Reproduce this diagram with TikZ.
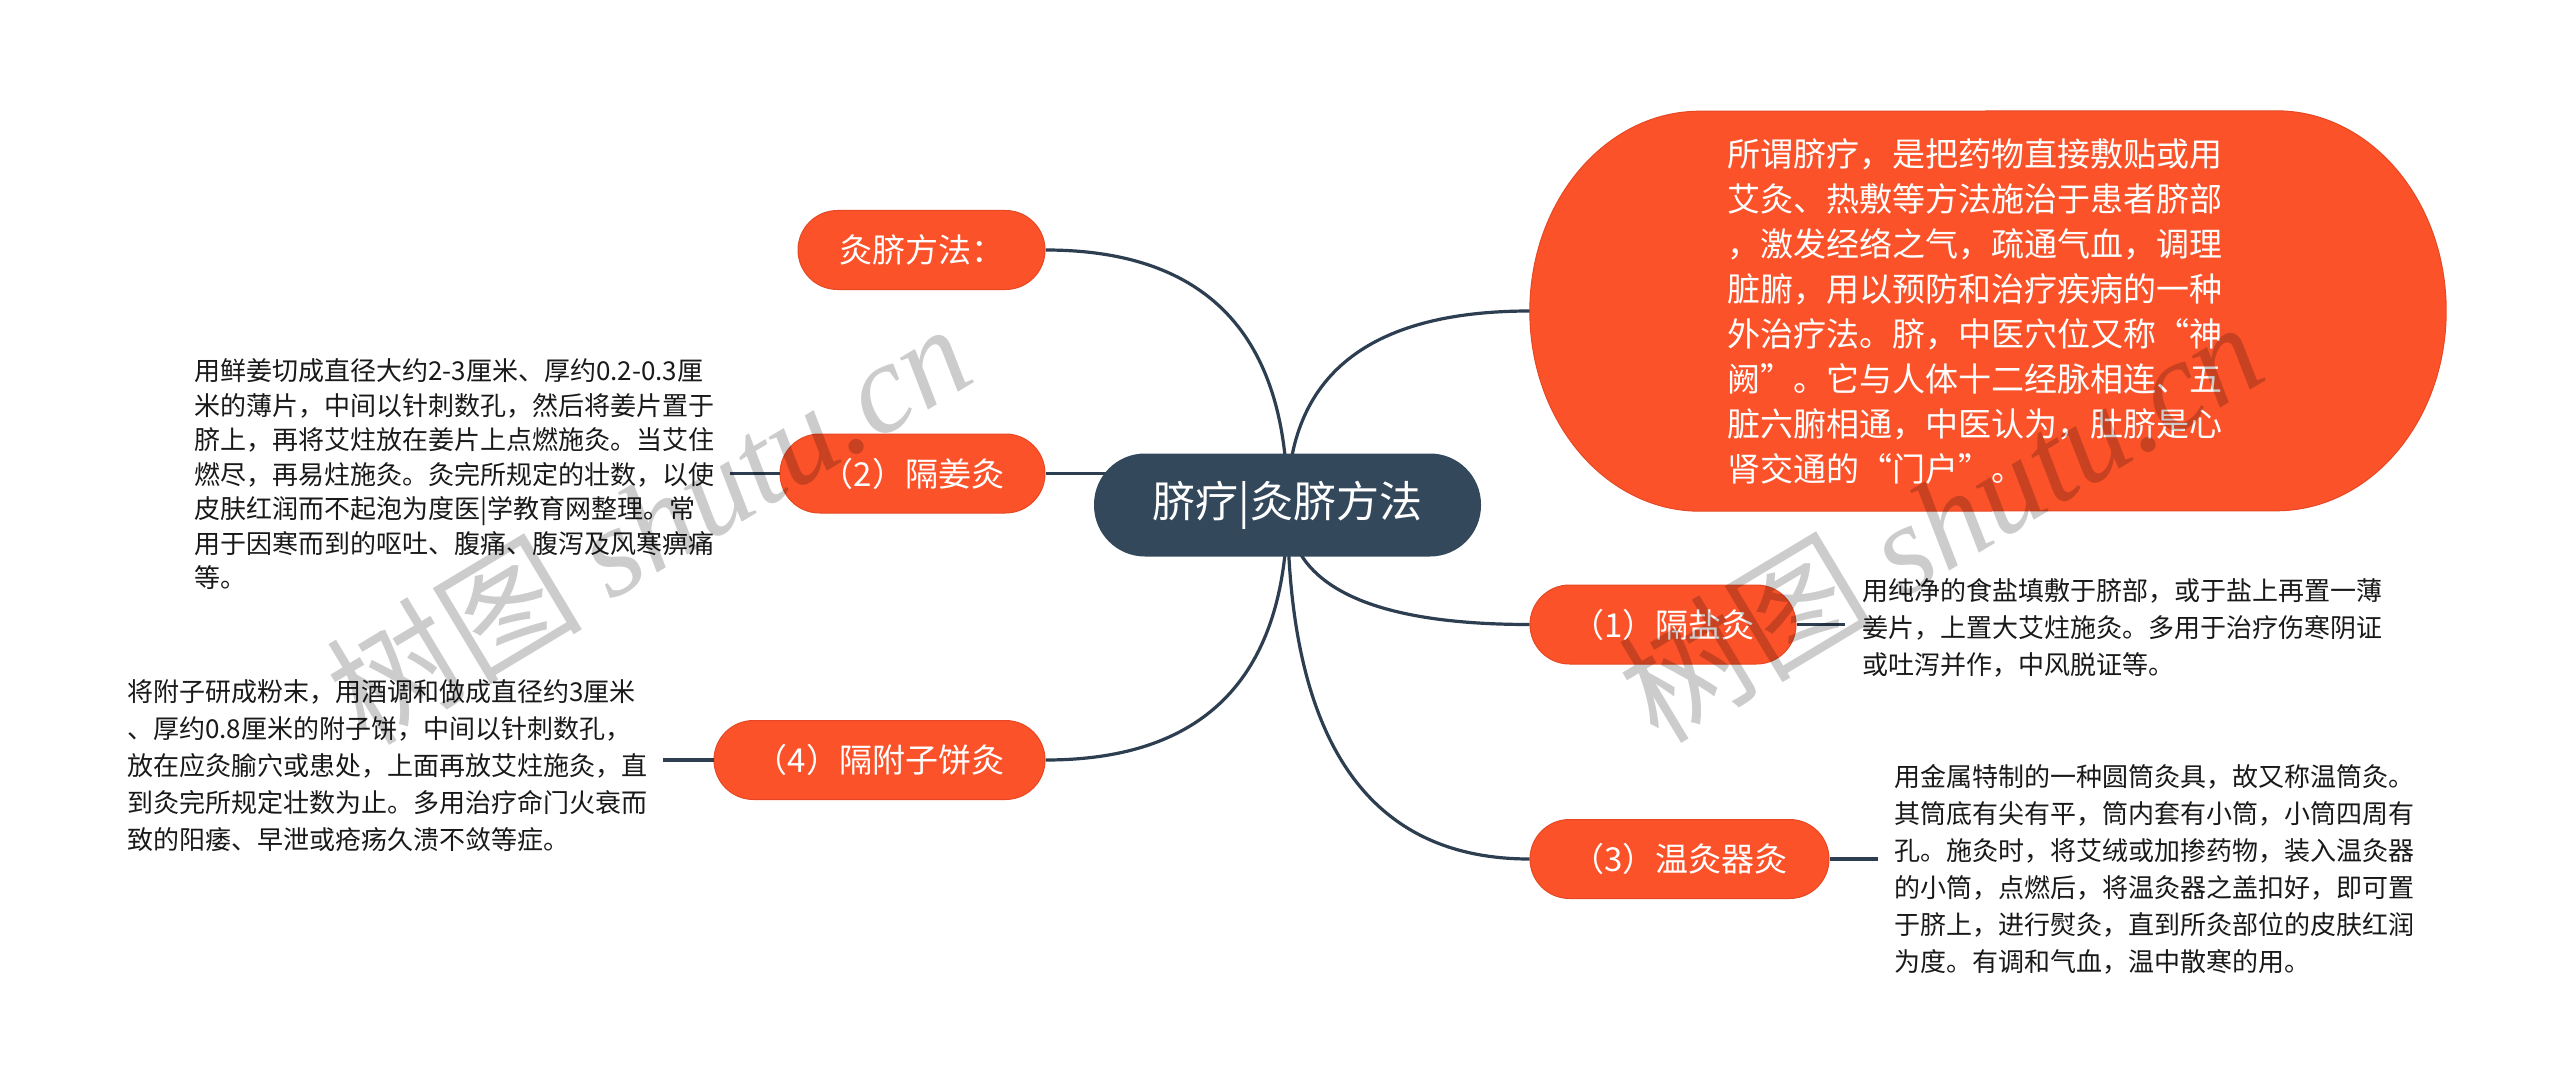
\documentclass[tikz,border=0pt]{standalone}
\usepackage{fontspec}
\setmainfont{Noto Sans CJK SC}
\newfontfamily\wmlatin{Liberation Serif}
\usetikzlibrary{calc,backgrounds}
\definecolor{orng}{RGB}{251,82,42}
\definecolor{orngdark}{RGB}{230,72,36}
\definecolor{slate}{RGB}{52,72,92}
\definecolor{linec}{RGB}{44,62,80}
\definecolor{txt}{RGB}{25,25,25}
\tikzset{
  topic/.style={fill=orng, draw=orngdark, line width=1pt, rounded corners=39.5pt,
    minimum height=79pt, text=white, font=\fontsize{33}{40}\selectfont, inner sep=0pt},
  central/.style={fill=slate, rounded corners=51pt, minimum width=387pt,
    minimum height=103pt, text=white, font=\fontsize{43}{50}\selectfont, inner sep=0pt},
  detail/.style={anchor=west, align=left, inner sep=0pt, text=txt},
  link/.style={draw=linec, line width=3.2pt},
  wmark/.style={rotate=31, text=black, opacity=0.2, font=\fontsize{128}{128}\selectfont, inner sep=0pt}
}
\begin{document}
\begin{tikzpicture}[x=1pt,y=1pt]
\begin{scope}[on background layer]
\fill[white] (0,0) rectangle (2560,-1086);
\end{scope}
\useasboundingbox (0,0) rectangle (2560,-1086);

% nodes
\node[central] (c) at (1287.5,-505) {脐疗|灸脐方法};
\node[topic, minimum width=247pt] (m0) at (921.5,-250) {灸脐方法：};
\node[topic, minimum width=265pt] (n2) at (912.5,-473.5) {（2）隔姜灸};
\node[topic, minimum width=331pt] (n4) at (879.5,-760) {（4）隔附子饼灸};
\node[topic, minimum width=266pt] (n1) at (1663,-624.5) {（1）隔盐灸};
\node[topic, minimum width=299pt] (n3) at (1679.5,-859) {（3）温灸器灸};
\node[inner sep=0pt, minimum width=916pt, minimum height=400pt] (intro) at (1988,-311) {};
\fill[orng, draw=orngdark, line width=1pt] ($(intro.north east)+(-170,0)$)
  arc[start angle=90, end angle=-90, x radius=170pt, y radius=200pt]
  -- ($(intro.south west)+(170,0)$)
  arc[start angle=270, end angle=90, x radius=170pt, y radius=200pt] -- cycle;
\node[anchor=west, align=left, inner sep=0pt, text=white, font=\fontsize{33}{45}\selectfont] (introtext) at (1727,-311)
  {所谓脐疗，是把药物直接敷贴或用\\艾灸、热敷等方法施治于患者脐部\\，激发经络之气，疏通气血，调理\\脏腑，用以预防和治疗疾病的一种\\外治疗法。脐，中医穴位又称“神\\阙”。它与人体十二经脉相连、五\\脏六腑相通，中医认为，肚脐是心\\肾交通的“门户”。};

% detail texts
\node[detail, font=\fontsize{26}{34.5}\selectfont] (d2) at (194,-474.5)
  {用鲜姜切成直径大约2-3厘米、厚约0.2-0.3厘\\米的薄片，中间以针刺数孔，然后将姜片置于\\脐上，再将艾炷放在姜片上点燃施灸。当艾住\\燃尽，再易炷施灸。灸完所规定的壮数，以使\\皮肤红润而不起泡为度医|学教育网整理。常\\用于因寒而到的呕吐、腹痛、腹泻及风寒痹痛\\等。};
\node[detail, font=\fontsize{26}{37}\selectfont] (d4) at (127,-766)
  {将附子研成粉末，用酒调和做成直径约3厘米\\、厚约0.8厘米的附子饼，中间以针刺数孔，\\放在应灸腧穴或患处，上面再放艾炷施灸，直\\到灸完所规定壮数为止。多用治疗命门火衰而\\致的阳痿、早泄或疮疡久溃不敛等症。};
\node[detail, font=\fontsize{26}{37}\selectfont] (d1) at (1862,-627.5)
  {用纯净的食盐填敷于脐部，或于盐上再置一薄\\姜片，上置大艾炷施灸。多用于治疗伤寒阴证\\或吐泻并作，中风脱证等。};
\node[detail, font=\fontsize{26}{37}\selectfont] (d3) at (1894,-869.5)
  {用金属特制的一种圆筒灸具，故又称温筒灸。\\其筒底有尖有平，筒内套有小筒，小筒四周有\\孔。施灸时，将艾绒或加掺药物，装入温灸器\\的小筒，点燃后，将温灸器之盖扣好，即可置\\于脐上，进行熨灸，直到所灸部位的皮肤红润\\为度。有调和气血，温中散寒的用。};

% stub ends
\coordinate (s2) at (730,-473.5);
\coordinate (s4) at (663,-760);
\coordinate (s1) at (1845,-624.5);
\coordinate (s3) at (1878,-859);
\draw[link] (n2.west) -- (s2);
\draw[link] (n4.west) -- (s4);
\draw[link] (n1.east) -- (s1);
\draw[link] (n3.east) -- (s3);

% curve corners
\coordinate (k0) at (c.center |- m0.east);
\coordinate (ki) at (c.center |- intro.west);
\coordinate (k1) at (c.center |- n1.west);
\coordinate (k3) at (c.center |- n3.west);
\coordinate (k4) at (c.center |- n4.east);
\begin{scope}[on background layer]
\draw[link] (c.center) .. controls ($(c.center)!0.667!(k0)$) and ($(m0.east)!0.667!(k0)$) .. (m0.east);
\draw[link] (c.center) .. controls ($(c.center)!0.667!(ki)$) and ($(intro.west)!0.667!(ki)$) .. (intro.west);
\draw[link] (c.center) .. controls ($(c.center)!0.667!(k1)$) and ($(n1.west)!0.667!(k1)$) .. (n1.west);
\draw[link] (c.center) .. controls ($(c.center)!0.667!(k3)$) and ($(n3.west)!0.667!(k3)$) .. (n3.west);
\draw[link] (c.center) .. controls ($(c.center)!0.667!(k4)$) and ($(n4.east)!0.667!(k4)$) .. (n4.east);
\draw[link] (n2.east) -- (n2.east -| c.center);
\end{scope}

% watermarks
\node[wmark] (wm1) at (648,-522) {树图 {\wmlatin\itshape shutu.cn}};
\node[wmark] (wm2) at (1940,-520) {树图 {\wmlatin\itshape shutu.cn}};
\end{tikzpicture}
\end{document}
